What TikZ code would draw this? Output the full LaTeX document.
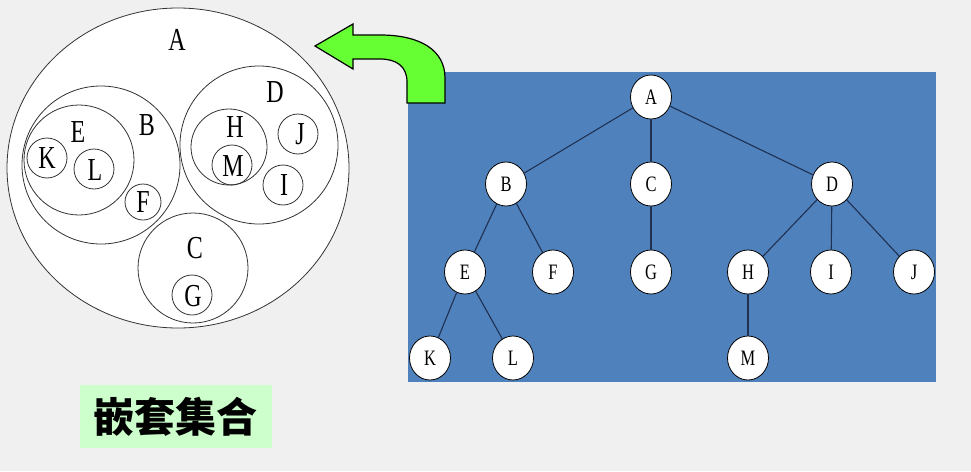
\documentclass[tikz,border=0pt]{standalone}
\usepackage{fontspec}
\usetikzlibrary{shapes.geometric}
\newfontfamily\letterfont[FakeStretch=0.75]{Liberation Serif}
\newfontfamily\cjkfont{Noto Sans CJK SC}
\definecolor{bg}{HTML}{F0F0F0}
\definecolor{treeblue}{HTML}{4F81BD}
\definecolor{arrowgreen}{HTML}{66FF33}
\definecolor{labelgreen}{HTML}{CCFFCC}
\definecolor{edgecol}{HTML}{1F3050}
\begin{document}
\begin{tikzpicture}[x=1pt,y=-1pt,
  setline/.style={draw=black!80, line width=0.8pt},
  setlabel/.style={font=\letterfont\fontsize{32}{32}\selectfont, inner sep=0pt},
  treenode/.style={ellipse, draw=black, fill=white, line width=0.8pt, minimum width=41pt, minimum height=44pt, inner sep=0pt, font=\letterfont\fontsize{22}{22}\selectfont},
  treeedge/.style={draw=edgecol, line width=1.1pt}]
\fill[bg] (0,0) rectangle (971,471);
\useasboundingbox (0,0) rectangle (971,471);

% ---- nested sets ----
\draw[setline, fill=white] (178,168) ellipse [x radius=171, y radius=160];
\draw[setline] (101,165) ellipse [x radius=79, y radius=79];
\draw[setline] (79,160) ellipse [x radius=55, y radius=55];
\draw[setline] (47,158) circle [radius=20];
\draw[setline] (94,169) circle [radius=20];
\draw[setline] (143,202) circle [radius=18];
\draw[setline] (259,145) ellipse [x radius=79, y radius=79];
\draw[setline] (229,147) circle [radius=38];
\draw[setline] (232,165) circle [radius=20];
\draw[setline] (298,134) circle [radius=20];
\draw[setline] (283,185) circle [radius=20];
\draw[setline] (193,268) circle [radius=55];
\draw[setline] (192,295) circle [radius=20];

\node[setlabel] (sA) at (177,40) {A};
\node[setlabel] (sB) at (147,125) {B};
\node[setlabel] (sE) at (78,132) {E};
\node[setlabel] (sK) at (47,158) {K};
\node[setlabel] (sL) at (95,170) {L};
\node[setlabel] (sF) at (143,202) {F};
\node[setlabel] (sD) at (275,92) {D};
\node[setlabel] (sH) at (235,127) {H};
\node[setlabel] (sM) at (233,166) {M};
\node[setlabel] (sJ) at (300,134) {J};
\node[setlabel] (sI) at (284,185) {I};
\node[setlabel] (sC) at (195,248) {C};
\node[setlabel] (sG) at (193,296) {G};

% ---- tree ----
\fill[treeblue] (408,72) rectangle (936,382);

\node[treenode] (tA) at (651,97) {A};
\node[treenode] (tB) at (506,184) {B};
\node[treenode] (tC) at (651,184) {C};
\node[treenode] (tD) at (832,184) {D};
\node[treenode] (tE) at (465,272) {E};
\node[treenode] (tF) at (553,272) {F};
\node[treenode] (tG) at (651,272) {G};
\node[treenode] (tH) at (748,272) {H};
\node[treenode] (tI) at (831,272) {I};
\node[treenode] (tJ) at (914,272) {J};
\node[treenode] (tK) at (430,358) {K};
\node[treenode] (tL) at (513,358) {L};
\node[treenode] (tM) at (748,358) {M};

\draw[treeedge] (tA) -- (tB);
\draw[treeedge] (tA) -- (tC);
\draw[treeedge] (tA) -- (tD);
\draw[treeedge] (tB) -- (tE);
\draw[treeedge] (tB) -- (tF);
\draw[treeedge] (tC) -- (tG);
\draw[treeedge] (tD) -- (tH);
\draw[treeedge] (tD) -- (tI);
\draw[treeedge] (tD) -- (tJ);
\draw[treeedge] (tE) -- (tK);
\draw[treeedge] (tE) -- (tL);
\draw[treeedge] (tH) -- (tM);

% ---- green bent arrow ----
\draw[fill=arrowgreen, line width=1.2pt, line join=miter]
  (315,46) -- (353,24) -- (353,35) -- (380,35)
  .. controls (420,35) and (445,50) .. (445,78)
  -- (445,103) -- (407,103) -- (407,82)
  .. controls (407,66) and (396,59) .. (380,59)
  -- (353,59) -- (353,69) -- cycle;

% ---- caption ----
\node[fill=labelgreen, minimum width=192pt, minimum height=63pt, inner sep=0pt] (cap) at (176,416.5) {};
\node[font=\cjkfont\bfseries\fontsize{41}{41}\selectfont, inner sep=0pt] (captext) at (175,417) {嵌套集合};
\end{tikzpicture}
\end{document}
